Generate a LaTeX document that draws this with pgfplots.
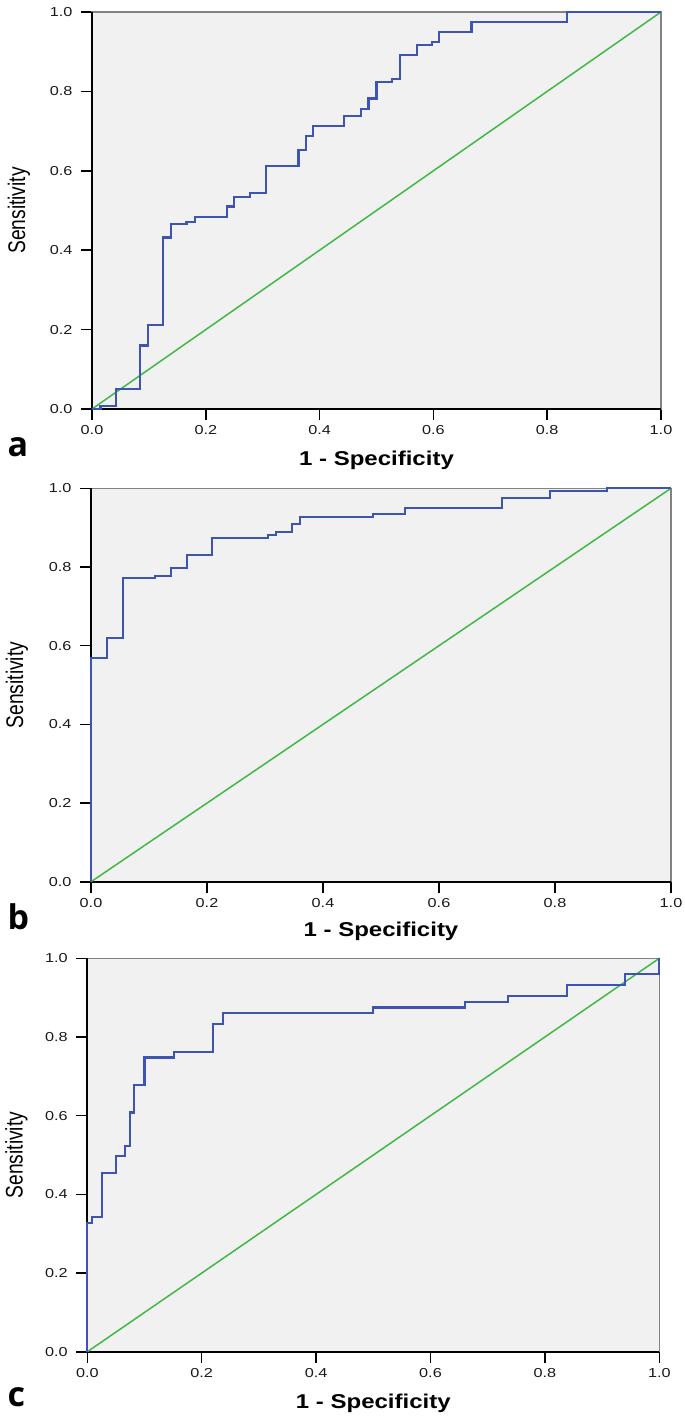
\documentclass[border=0pt]{standalone}
\usepackage{fontspec}
\setmainfont{Liberation Sans}
\newfontfamily\tickfont[FakeStretch=1.25]{Liberation Sans}
\newfontfamily\xlabfont[FakeStretch=1.2]{Liberation Sans}
\newfontfamily\ylabfont[FakeStretch=0.8]{Liberation Sans}
\newfontfamily\panelfont{Open Sans}
\usepackage{pgfplots}
\pgfplotsset{compat=1.18}
\definecolor{bgc}{RGB}{241,241,241}
\definecolor{framegray}{RGB}{130,130,130}
\definecolor{rocblue}{RGB}{62,84,178}
\definecolor{refgreen}{RGB}{64,184,72}
\definecolor{tickc}{RGB}{25,25,25}
\pgfplotsset{
  rocaxis/.style={
    scale only axis, anchor=south west,
    xmin=0, xmax=1, ymin=0, ymax=1,
    axis background/.style={fill=bgc},
    axis line style={draw=framegray, line width=1.2pt},
    tick align=outside, tick pos=left,
    major tick length=11pt,
    every tick/.style={black, line width=1.5pt},
    xtick={0,0.2,0.4,0.6,0.8,1}, ytick={0,0.2,0.4,0.6,0.8,1},
    xticklabels={0.0,0.2,0.4,0.6,0.8,1.0},
    yticklabels={0.0,0.2,0.4,0.6,0.8,1.0},
    tick label style={font=\tickfont\fontsize{13}{14}\selectfont, text=tickc},
    yticklabel shift=5pt, xticklabel shift=2pt,
    clip=false,
  },
  roc/.style={rocblue, line width=2.1pt, const plot, line join=miter},
  diag/.style={refgreen, line width=1.5pt},
}
\newcommand{\ylab}{\ylabfont\fontsize{24}{24}\selectfont}
\newcommand{\xlab}{\xlabfont\bfseries\fontsize{20}{20}\selectfont}
\newcommand{\plab}{\panelfont\bfseries\fontsize{34}{34}\selectfont}
\begin{document}
\begin{tikzpicture}
\path[use as bounding box] (0,0) rectangle (685pt,1417pt);
% panel a
\begin{axis}[rocaxis, at={(92pt,1008pt)}, width=569pt, height=397pt]
\draw[black, line width=1.6pt] (rel axis cs:0,1) -- (rel axis cs:0,0) -- (rel axis cs:1,0);
\addplot[diag] coordinates {(0,0) (1,1)};
\addplot[roc] coordinates {
(0,0) (0.015,0.008) (0.042,0.050) (0.084,0.160) (0.098,0.211) (0.125,0.432)
(0.139,0.466) (0.166,0.471) (0.181,0.484) (0.237,0.510) (0.250,0.535)
(0.278,0.543) (0.306,0.612) (0.363,0.652) (0.376,0.688) (0.389,0.713)
(0.443,0.738) (0.472,0.756) (0.486,0.782) (0.500,0.824) (0.528,0.832)
(0.541,0.891) (0.571,0.917) (0.597,0.925) (0.610,0.950) (0.667,0.975)
(0.834,1.000) (1.000,1.000)};
\node[font=\ylab, rotate=90] at ([xshift=-73pt]rel axis cs:0,0.5) {Sensitivity};
\node[font=\xlab] at ([yshift=-51pt]rel axis cs:0.5,0) {1 - Specificity};
\end{axis}
% panel b
\begin{axis}[rocaxis, at={(91pt,535.2pt)}, width=580pt, height=393.5pt]
\draw[black, line width=1.6pt] (rel axis cs:0,1) -- (rel axis cs:0,0) -- (rel axis cs:1,0);
\addplot[diag] coordinates {(0,0) (1,1)};
\addplot[roc] coordinates {
(0,0) (0,0.568) (0.027,0.619) (0.055,0.771) (0.110,0.778) (0.138,0.797)
(0.166,0.830) (0.208,0.873) (0.305,0.881) (0.319,0.890) (0.347,0.909)
(0.360,0.926) (0.486,0.934) (0.541,0.949) (0.709,0.975) (0.791,0.992)
(0.889,1.000) (1,1)};
\node[font=\ylab, rotate=90] at ([xshift=-74pt]rel axis cs:0,0.5) {Sensitivity};
\node[font=\xlab] at ([yshift=-50pt]rel axis cs:0.5,0) {1 - Specificity};
\end{axis}
% panel c
\begin{axis}[rocaxis, at={(87.3pt,65.2pt)}, width=572pt, height=393.5pt]
\draw[black, line width=1.6pt] (rel axis cs:0,1) -- (rel axis cs:0,0) -- (rel axis cs:1,0);
\addplot[diag] coordinates {(0,0) (1,1)};
\addplot[roc] coordinates {
(0,0) (0,0.328) (0.008,0.343) (0.025,0.455) (0.050,0.497) (0.066,0.524)
(0.075,0.608) (0.082,0.679) (0.100,0.748) (0.152,0.762) (0.219,0.833)
(0.237,0.862) (0.499,0.875) (0.660,0.890) (0.736,0.904) (0.838,0.932)
(0.940,0.960) (1.000,1.000)};
\node[font=\ylab, rotate=90] at ([xshift=-71pt]rel axis cs:0,0.5) {Sensitivity};
\node[font=\xlab] at ([yshift=-52pt]rel axis cs:0.5,0) {1 - Specificity};
\end{axis}
\node[anchor=base west, font=\plab] at (4pt,960pt) {a};
\node[anchor=base west, font=\plab] at (4pt,487pt) {b};
\node[anchor=base west, font=\plab] at (4pt,10pt) {c};
\end{tikzpicture}
\end{document}
